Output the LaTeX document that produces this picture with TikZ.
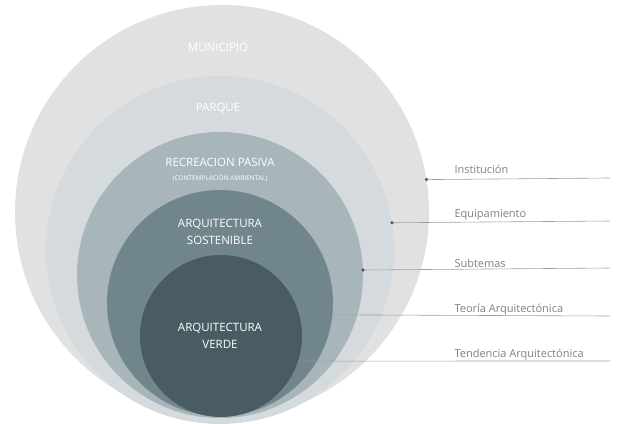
\documentclass[tikz,border=0pt]{standalone}
\usepackage{fontspec}
\setmainfont{Open Sans}
\usetikzlibrary{positioning}
\definecolor{ringA}{HTML}{E1E1E1}
\definecolor{ringB}{HTML}{D4DADD}
\definecolor{ringC}{HTML}{A8B6BA}
\definecolor{ringD}{HTML}{70858C}
\definecolor{ringE}{HTML}{4A5C63}
\definecolor{linegray}{HTML}{A0A0A0}
\definecolor{labelgray}{HTML}{808080}
\definecolor{dotgray}{HTML}{444444}
\tikzset{
  ring/.style={circle,inner sep=0pt,minimum size=#1},
  ringlbl/.style={text=white,align=center,font=\fontsize{11.5}{17}\selectfont},
  sidelbl/.style={text=labelgray,anchor=base west,font=\fontsize{11}{12}\selectfont},
  leader/.style={draw=linegray,line width=0.6pt},
  dot/.style={circle,fill=dotgray,inner sep=0pt,minimum size=3.5pt}
}

\begin{document}
\begin{tikzpicture}[x=1pt,y=-1pt]
\useasboundingbox (0,0) rectangle (626,423);
% rings
\node[ring=414pt,fill=ringA] (municipio) at (222,212) {};
\node[ring=348pt,fill=ringB] (parque) at (220,250) {};
\node[ring=286pt,fill=ringC] (recreacion) at (220,275) {};
\node[ring=226pt,fill=ringD] (sostenible) at (220,303) {};
\node[ring=162pt,fill=ringE] (verde) at (221,336) {};
% ring labels
\node[ringlbl] (t_municipio) at (218,47) {MUNICIPIO};
\node[ringlbl] (t_parque) at (218,108) {PARQUE};
\node[ringlbl] (t_recreacion) at (220,162) {RECREACION PASIVA};
\node[text=white,font=\fontsize{6.5}{7}\selectfont] (t_contemplacion) at (220,178) {(CONTEMPLACIÓN AMBIENTAL)};
\node[ringlbl] (t_sostenible) at (220,232) {ARQUITECTURA\\SOSTENIBLE};
\node[ringlbl] (t_verde) at (220,336) {ARQUITECTURA\\VERDE};
% leader lines
\coordinate (e_inst) at (610,178);
\coordinate (e_equip) at (610,221);
\coordinate (e_sub) at (610,268);
\coordinate (e_teoria) at (610,316);
\coordinate (e_tend) at (610,361);
\node[dot] (d_inst) at (municipio.9.5) {};
\node[dot] (d_equip) at (parque.9.5) {};
\node[dot] (d_sub) at (recreacion.2.7) {};
\path[leader]
  (d_inst.center) -- (e_inst)
  (d_equip.center) -- (e_equip)
  (d_sub.center) -- (e_sub)
  (sostenible.-6.6) -- (e_teoria)
  (verde.-18) -- (e_tend);
\node[sidelbl] (l_inst) at (451,173) {Institución};
\node[sidelbl] (l_equip) at (451,217) {Equipamiento};
\node[sidelbl] (l_sub) at (451,267) {Subtemas};
\node[sidelbl] (l_teoria) at (451,312) {Teoría Arquitectónica};
\node[sidelbl] (l_tend) at (451,357) {Tendencia Arquitectónica};
\end{tikzpicture}
\end{document}
